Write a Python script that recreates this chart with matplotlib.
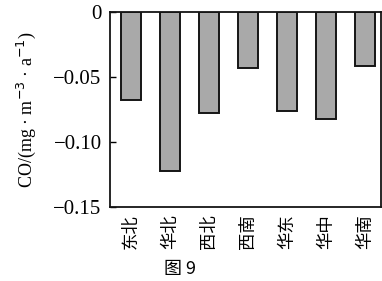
import matplotlib
import matplotlib.pyplot as plt

matplotlib.use("Agg", force=True)

plt.rcParams["font.family"] = ["Liberation Serif", "Noto Sans CJK SC"]
plt.rcParams["axes.unicode_minus"] = True

regions = ["东北", "华北", "西北", "西南", "华东", "华中", "华南"]
co_trend = [-0.068, -0.122, -0.078, -0.043, -0.076, -0.082, -0.0415]
y_ticks = [0, -0.05, -0.10, -0.15]
y_tick_labels = ["0", "\u22120.05", "\u22120.10", "\u22120.15"]

fig = plt.figure(figsize=(3.82, 2.81), dpi=100)
ax = fig.add_axes([0.288, 0.263, 0.709, 0.694])

x = range(len(regions))
ax.bar(x, co_trend, width=0.51, color="#a9a9a9", edgecolor="#151515", linewidth=1.4)

ax.set_xlim(-0.54, 6.41)
ax.set_ylim(-0.15, 0)
ax.set_yticks(y_ticks)
ax.set_yticklabels(y_tick_labels, fontsize=15)
ax.set_xticks(list(x))
ax.set_xticklabels(regions, rotation=90, fontsize=12.5, family=["Noto Sans CJK SC"])
ax.tick_params(axis="y", direction="in", length=4, width=1, pad=6)
ax.tick_params(axis="x", length=0, pad=5)
for s in ax.spines.values():
    s.set_linewidth(1.3)
    s.set_color("#151515")

ax.set_ylabel("CO/(mg · m$^{-3}$ · a$^{-1}$)", fontsize=13, labelpad=11)
fig.text(0.47, 0.01, "图 9", fontsize=13, ha="center", va="bottom",
         family=["Noto Sans CJK SC"])

fig.savefig("out.png", dpi=100)
